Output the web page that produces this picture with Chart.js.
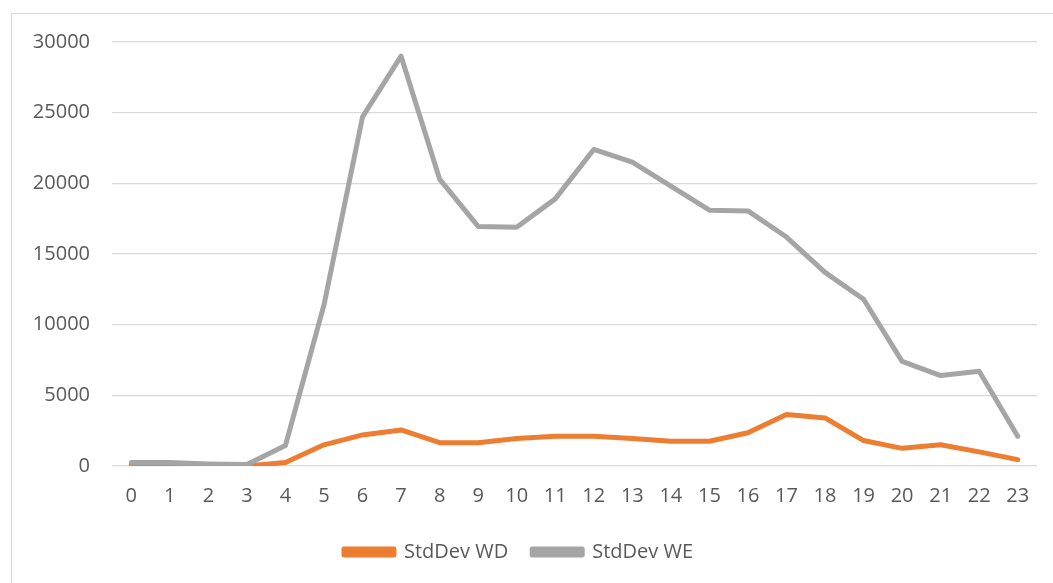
<!DOCTYPE html>
<html>
<head>
<meta charset="utf-8">
<script src="https://cdn.jsdelivr.net/npm/chart.js@4"></script>
<style>
  html, body { margin: 0; padding: 0; background: #fff; overflow: hidden; }
  #frame { position: absolute; left: 11px; top: 13px; width: 1100px; height: 620px; border: 1px solid #d9d9d9; }
  #wrap { position: absolute; left: 0; top: 0; width: 1053px; height: 583px; }
</style>
</head>
<body>
<div id="frame"></div>
<div id="wrap"><canvas id="lineChart"></canvas></div>
<script>
// hours of the day
var hours = ['0','1','2','3','4','5','6','7','8','9','10','11','12','13','14','15','16','17','18','19','20','21','22','23'];

// std dev, week days
var stdDevWD = [100, 100, 30, 0, 250, 1500, 2200, 2550, 1650, 1650, 1950, 2100, 2100, 1950, 1750, 1750, 2350, 3650, 3400, 1800, 1250, 1500, 1000, 450];

// std dev, week ends
var stdDevWE = [250, 240, 150, 100, 1450, 11400, 24700, 29000, 20300, 16950, 16900, 18900, 22400, 21500, 19800, 18100, 18050, 16200, 13700, 11800, 7400, 6400, 6700, 2100];

var yTicks = [0, 5000, 10000, 15000, 20000, 25000, 30000];

var textColor = '#595959';
var fontFamily = "'Open Sans', 'Liberation Sans', sans-serif";

const ctx = document.getElementById('lineChart');

new Chart(ctx, {
  type: 'line',
  data: {
    labels: hours,
    datasets: [{
      label: 'StdDev WD',
      data: stdDevWD,
      borderColor: '#ED7D31',
      backgroundColor: '#ED7D31',
      borderWidth: 5,
      pointRadius: 0,
      tension: 0,
      borderCapStyle: 'round',
      borderJoinStyle: 'round',
      order: 2
    }, {
      label: 'StdDev WE',
      data: stdDevWE,
      borderColor: '#A5A5A5',
      backgroundColor: '#A5A5A5',
      borderWidth: 5,
      pointRadius: 0,
      tension: 0,
      borderCapStyle: 'round',
      borderJoinStyle: 'round',
      order: 1
    }]
  },
  options: {
    responsive: true,
    maintainAspectRatio: false,
    animation: false,
    layout: {
      padding: { left: 0, right: 16, top: 42, bottom: 11 }
    },
    scales: {
      x: {
        offset: true,
        grid: { display: false },
        border: { display: false },
        ticks: {
          color: textColor,
          font: { family: fontFamily, size: 20 },
          padding: 10,
          maxRotation: 0,
          autoSkip: false
        }
      },
      y: {
        min: 0,
        max: 30000,
        afterFit: function (axis) { axis.width = 112; },
        afterBuildTicks: function (axis) {
          axis.ticks = yTicks.map(function (v) { return { value: v }; });
        },
        grid: {
          color: '#d9d9d9',
          lineWidth: 1.3,
          drawTicks: false
        },
        border: { display: false },
        ticks: {
          color: textColor,
          font: { family: fontFamily, size: 20 },
          padding: 22,
          callback: function (val) { return String(val); }
        }
      }
    },
    plugins: {
      legend: {
        position: 'bottom',
        labels: {
          color: textColor,
          font: { family: fontFamily, size: 20 },
          boxWidth: 50,
          boxHeight: 6,
          padding: 24,
          sort: function (a, b) { return a.datasetIndex - b.datasetIndex; }
        }
      },
      tooltip: { enabled: false }
    }
  }
});
</script>
</body>
</html>
